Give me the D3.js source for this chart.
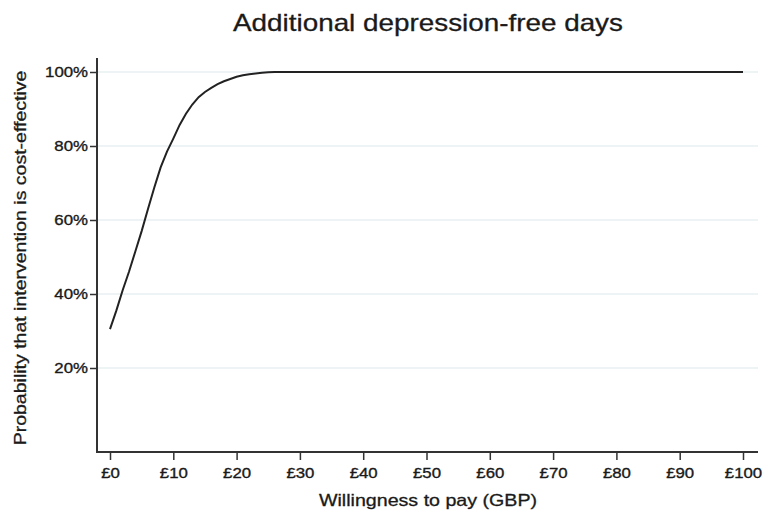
<!DOCTYPE html>
<html>
<head>
<meta charset="utf-8">
<script src="https://cdn.jsdelivr.net/npm/d3@7"></script>
<style>
  body { margin: 0; background: #fff; }
  text { font-family: "Liberation Sans", Arial, sans-serif; fill: #1a1a1a; }
</style>
</head>
<body>
<div id="chart"></div>
<script>
// willingness to pay (GBP) and probability the intervention is cost-effective
const wtp = [0, 1, 2, 3, 4, 5, 6, 7, 8, 9, 10, 11, 12, 13, 14, 15, 16, 17, 18, 19, 20,
  21, 22, 23, 24, 25, 26, 30, 40, 50, 60, 70, 80, 90, 100];
const probability = [0.305, 0.355, 0.41, 0.46, 0.515, 0.57, 0.63, 0.688, 0.742, 0.785, 0.82,
  0.857, 0.887, 0.912, 0.932, 0.946, 0.957, 0.967, 0.975, 0.981, 0.987,
  0.991, 0.994, 0.996, 0.998, 0.999, 1, 1, 1, 1, 1, 1, 1, 1, 1];
const xTicks = [0, 10, 20, 30, 40, 50, 60, 70, 80, 90, 100];
const yTicks = [0.2, 0.4, 0.6, 0.8, 1.0];

const title = 'Additional depression-free days';
const xTitle = 'Willingness to pay (GBP)';
const yTitle = 'Probability that intervention is cost-effective';

const width = 769, height = 520;
const plot = { left: 97, right: 758, top: 58, bottom: 452 };
const stretch = 1.16; // the source text is set wide

const svg = d3.select('#chart').append('svg')
  .attr('width', width)
  .attr('height', height);

const x = d3.scaleLinear().domain([0, 100]).range([110, 743]);
const y = d3.scaleLinear().domain([0, 1]).range([442, 72]);

// gridlines
svg.append('g')
  .selectAll('line')
  .data(yTicks)
  .enter().append('line')
  .attr('x1', plot.left)
  .attr('x2', plot.right)
  .attr('y1', d => y(d))
  .attr('y2', d => y(d))
  .attr('stroke', '#e9f0f3')
  .attr('stroke-width', 1.5);

// y axis
const yAxis = svg.append('g')
  .attr('transform', `translate(${plot.left},0)`)
  .call(d3.axisLeft(y).tickValues(yTicks).tickFormat(d3.format('.0%')).tickSize(7).tickPadding(0));
yAxis.select('.domain').remove();
yAxis.append('line')
  .attr('y1', plot.top).attr('y2', plot.bottom + 1)
  .attr('stroke', '#333').attr('stroke-width', 2);
yAxis.selectAll('.tick line').attr('stroke', '#333').attr('stroke-width', 1.5);
yAxis.selectAll('.tick text')
  .attr('x', -9 / stretch)
  .attr('transform', `scale(${stretch},1)`)
  .attr('fill', '#1a1a1a')
  .attr('stroke', '#1a1a1a')
  .attr('stroke-width', 0.35)
  .style('font-size', '14.5px')
  .style('font-family', '"Liberation Sans", Arial, sans-serif');

// x axis
const xAxis = svg.append('g')
  .attr('transform', `translate(0,${plot.bottom})`)
  .call(d3.axisBottom(x).tickValues(xTicks).tickFormat(d => '£' + d).tickSize(8).tickPadding(7));
xAxis.select('.domain').remove();
xAxis.append('line')
  .attr('x1', plot.left - 1).attr('x2', plot.right)
  .attr('stroke', '#333').attr('stroke-width', 2);
xAxis.selectAll('.tick line').attr('stroke', '#333').attr('stroke-width', 1.5);
xAxis.selectAll('.tick text')
  .attr('transform', `scale(${stretch - 0.04},1)`)
  .attr('fill', '#1a1a1a')
  .attr('stroke', '#1a1a1a')
  .attr('stroke-width', 0.35)
  .style('font-size', '15px')
  .style('font-family', '"Liberation Sans", Arial, sans-serif');

// curve
const points = wtp.map((w, i) => ({ w, p: probability[i] }));
svg.append('path')
  .datum(points)
  .attr('fill', 'none')
  .attr('stroke', '#222')
  .attr('stroke-width', 2)
  .attr('d', d3.line().x(d => x(d.w)).y(d => y(d.p)));

// titles
svg.append('text')
  .attr('transform', `translate(428,31) scale(${stretch},1)`)
  .attr('text-anchor', 'middle')
  .attr('stroke', '#1a1a1a')
  .attr('stroke-width', 0.3)
  .style('font-size', '24px')
  .text(title);

svg.append('text')
  .attr('transform', `translate(428,506) scale(${stretch + 0.03},1)`)
  .attr('text-anchor', 'middle')
  .attr('stroke', '#1a1a1a')
  .attr('stroke-width', 0.3)
  .style('font-size', '16.5px')
  .text(xTitle);

svg.append('text')
  .attr('transform', `translate(26,258) rotate(-90) scale(${stretch + 0.06},1)`)
  .attr('text-anchor', 'middle')
  .attr('stroke', '#1a1a1a')
  .attr('stroke-width', 0.3)
  .style('font-size', '16px')
  .text(yTitle);
</script>
</body>
</html>
